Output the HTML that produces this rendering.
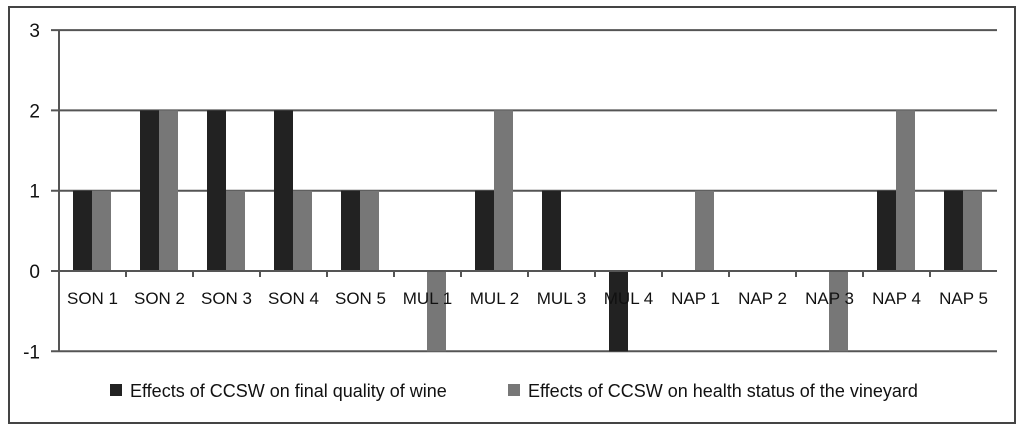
<!DOCTYPE html>
<html><head><meta charset="utf-8"><style>
body{margin:0;background:#fff;width:1024px;height:429px;overflow:hidden}
svg{font-family:"Liberation Sans",sans-serif}
</style></head><body>
<svg id="c" width="1024" height="429">
<rect x="9" y="7" width="1006" height="416" fill="#fff" stroke="#444" stroke-width="2"/>
<g id="g"></g>
<g>
<rect x="110" y="384" width="12" height="12" fill="#222"/>
<text x="130" y="397" font-size="18" fill="#111">Effects of CCSW on final quality of wine</text>
<rect x="508" y="384" width="12" height="12" fill="#777"/>
<text x="528" y="397" font-size="18" fill="#111">Effects of CCSW on health status of the vineyard</text>
</g>
</svg>
<script>
const categories=["SON 1","SON 2","SON 3","SON 4","SON 5","MUL 1","MUL 2","MUL 3","MUL 4","NAP 1","NAP 2","NAP 3","NAP 4","NAP 5"];
const quality=[1,2,2,2,1,0,1,1,-1,0,0,0,1,1];
const health=[1,2,1,1,1,-1,2,0,0,1,0,-1,2,1];
const yTicks=[3,2,1,0,-1];
const NS="http://www.w3.org/2000/svg";
const g=document.getElementById('g');
const X0=59,X1=997,cw=(X1-X0)/categories.length;
const y=v=>271-(v)*80.3;
function mk(t,a){const e=document.createElementNS(NS,t);for(const k in a)e.setAttribute(k,a[k]);g.appendChild(e);return e;}
yTicks.forEach(t=>{
 const l=mk('line',{x1:51,x2:X1,y1:y(t),y2:y(t),stroke:'#555','stroke-width':2});
 
 
 const tx=mk('text',{x:40,y:y(t)+7,'font-size':19,'text-anchor':'end',fill:'#111'});tx.textContent=t;
 
 
});
const ax=mk('line',{x1:X0,x2:X0,y1:y(3),y2:y(-1),stroke:'#555','stroke-width':2});


categories.forEach((c,i)=>{
 const bx=X0+i*cw+14,bw=19;
 [[quality[i],'#222',0,'bar-quality'],[health[i],'#777',1,'bar-health']].forEach(([v,col,o,n])=>{
  if(v===0)return;
  const r=mk('rect',{x:bx+o*bw,y:Math.min(y(v),y(0)),width:bw,height:Math.abs(y(v)-y(0)),fill:col});
  
  
 });
 if(i>0){const t=mk('line',{x1:X0+i*cw,x2:X0+i*cw,y1:y(0),y2:y(0)+6,stroke:'#555','stroke-width':2});
  
  }
 const tx=mk('text',{x:X0+i*cw+cw/2,y:304,'font-size':17,'text-anchor':'middle',fill:'#111'});tx.textContent=c;
 
 
});
const z=mk('line',{x1:51,x2:X1,y1:y(0),y2:y(0),stroke:'#555','stroke-width':2});


</script>
</body></html>
